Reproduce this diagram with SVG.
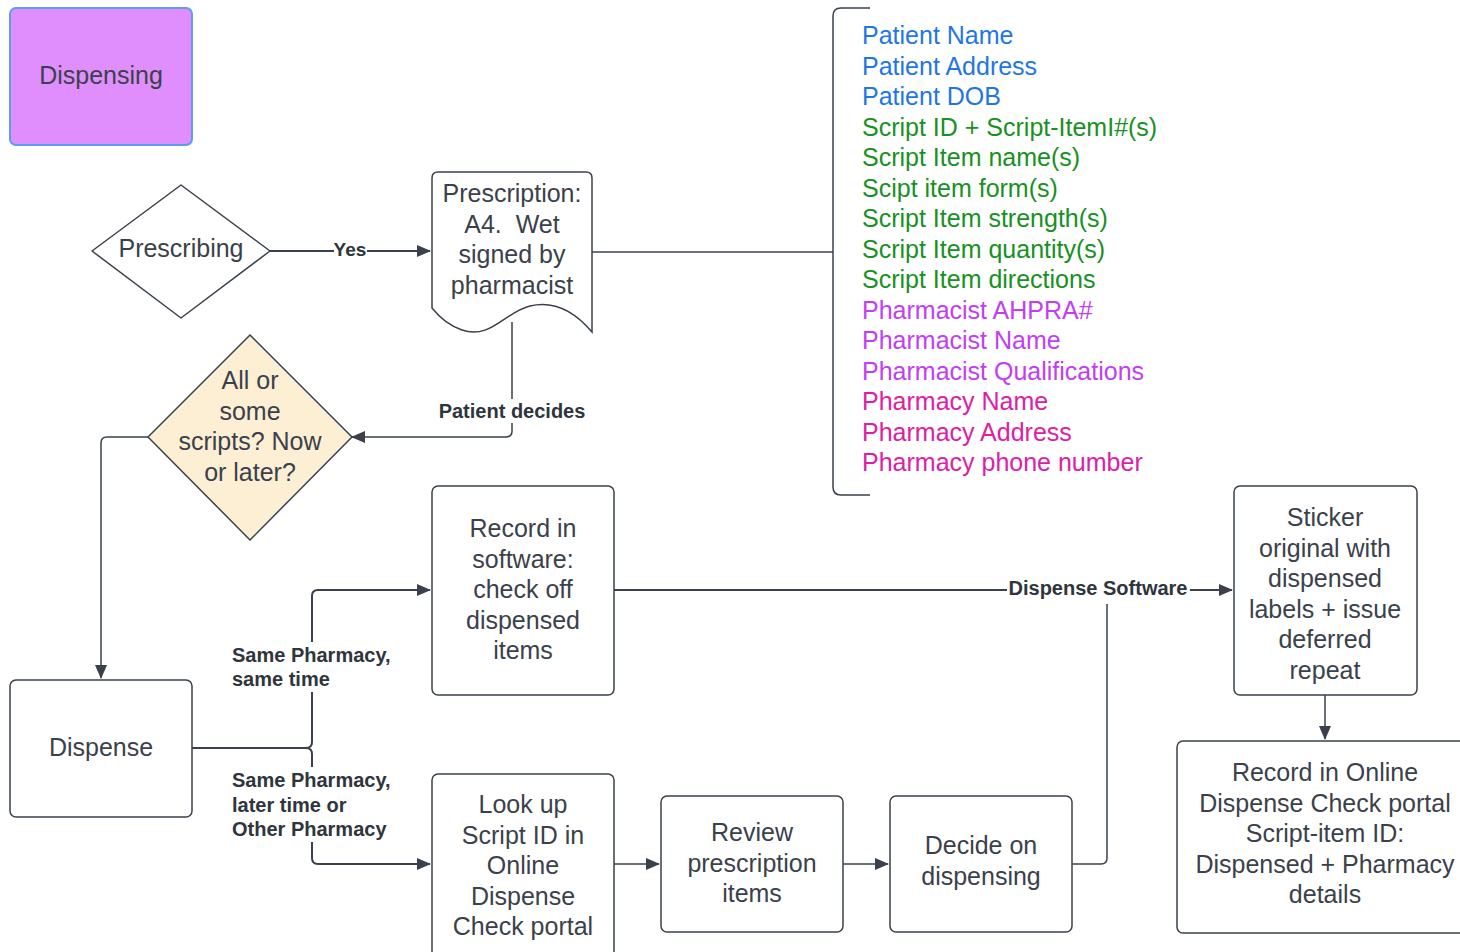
<svg xmlns="http://www.w3.org/2000/svg" width="1460" height="952" viewBox="0 0 1460 952">
<defs>
<marker id="ah" markerWidth="14" markerHeight="12" refX="13" refY="6" orient="auto" markerUnits="userSpaceOnUse"><path d="M0,0 L14,6 L0,12 z" fill="#3a414c"/></marker>
<style>
.n{fill:#fff;stroke:#3a414c;stroke-width:1.5}
.t{font-family:"Liberation Sans",Arial,sans-serif;font-size:25px;fill:#3a414a;text-anchor:middle;white-space:pre}
.l{font-family:"Liberation Sans",Arial,sans-serif;font-size:20px;font-weight:bold;fill:#2f353d}
.bg{fill:#fff}
.c{fill:none;stroke:#3a414c;stroke-width:2}
.li{font-family:"Liberation Sans",Arial,sans-serif;font-size:25px}
.b{fill:#1f76e6}.g{fill:#17911f}.p{fill:#c23df5}.k{fill:#dc20a6}
</style>
</defs>
<rect width="1460" height="952" fill="#fff"/>

<g id="connectors">
<path class="c" d="M270,251 H430" marker-end="url(#ah)"/>
<path class="c" d="M592,252 H833" style="stroke-width:1.5"/>
<path class="c" d="M870,8 H841 Q833,8 833,16 V487 Q833,495 841,495 H870" style="stroke-width:1.5"/>
<path class="c" d="M512,322 V431 Q512,437 506,437 H352" marker-end="url(#ah)" style="stroke-width:1.5"/>
<path class="c" d="M148,437 H107 Q101,437 101,443 V678" marker-end="url(#ah)" style="stroke-width:1.5"/>
<path class="c" d="M192,748 H306 Q312,748 312,742 V596 Q312,590 318,590 H430" marker-end="url(#ah)"/>
<path class="c" d="M192,748 H306 Q312,748 312,754 V858 Q312,864 318,864 H430" marker-end="url(#ah)"/>
<path class="c" d="M614,590 H1232" marker-end="url(#ah)"/>
<path class="c" d="M614,864 H659" marker-end="url(#ah)" style="stroke-width:1.5"/>
<path class="c" d="M843,864 H888" marker-end="url(#ah)" style="stroke-width:1.5"/>
<path class="c" d="M1072,864 H1101 Q1107,864 1107,858 V590" style="stroke-width:1.5"/>
<path class="c" d="M1325,695 V739" marker-end="url(#ah)" style="stroke-width:1.5"/>
<rect class="bg" x="334" y="241" width="33" height="18"/>
<text class="l" x="350" y="256" text-anchor="middle" style="font-size:19px">Yes</text>
<rect class="bg" x="436" y="399" width="152" height="24"/>
<text class="l" x="512" y="418" text-anchor="middle">Patient decides</text>
<rect class="bg" x="229" y="642" width="166" height="50"/>
<text class="l" x="232" y="662"><tspan x="232">Same Pharmacy,</tspan><tspan x="232" dy="24">same time</tspan></text>
<rect class="bg" x="229" y="767" width="166" height="75"/>
<text class="l" x="232" y="787"><tspan x="232">Same Pharmacy,</tspan><tspan x="232" dy="24.5">later time or</tspan><tspan x="232" dy="24.5">Other Pharmacy</tspan></text>
<rect class="bg" x="1007" y="578" width="183" height="26"/>
<text class="l" x="1098" y="595" text-anchor="middle">Dispense Software</text>
</g>

<g id="dispensing">
<rect x="10" y="8" width="182" height="137" rx="6" fill="#e08efd" stroke="#5e9cf0" stroke-width="2"/>
<text class="t" x="101" y="84">Dispensing</text>
</g>

<g id="prescribing">
<path class="n" d="M92,251 L181,185 L270,251 L181,318 Z" stroke-linejoin="round"/>
<text class="t" x="181" y="257">Prescribing</text>
</g>

<g id="prescription">
<path class="n" d="M438,172 H586 Q592,172 592,178 V332 C575,312 555,300 530,306 C505,312 490,340 462,330 C450,326 440,318 432,308 V178 Q432,172 438,172 Z"/>
<text class="t" x="512" y="202"><tspan x="512">Prescription:</tspan><tspan x="512" dy="30.5">A4.  Wet</tspan><tspan x="512" dy="30.5">signed by</tspan><tspan x="512" dy="30.5">pharmacist</tspan></text>
</g>

<g id="fields">
<text class="li" x="862" y="44"><tspan class="b" x="862">Patient Name</tspan><tspan class="b" x="862" dy="30.5">Patient Address</tspan><tspan class="b" x="862" dy="30.5">Patient DOB</tspan><tspan class="g" x="862" dy="30.5">Script ID + Script-ItemI#(s)</tspan><tspan class="g" x="862" dy="30.5">Script Item name(s)</tspan><tspan class="g" x="862" dy="30.5">Scipt item form(s)</tspan><tspan class="g" x="862" dy="30.5">Script Item strength(s)</tspan><tspan class="g" x="862" dy="30.5">Script Item quantity(s)</tspan><tspan class="g" x="862" dy="30.5">Script Item directions</tspan><tspan class="p" x="862" dy="30.5">Pharmacist AHPRA#</tspan><tspan class="p" x="862" dy="30.5">Pharmacist Name</tspan><tspan class="p" x="862" dy="30.5">Pharmacist Qualifications</tspan><tspan class="k" x="862" dy="30.5">Pharmacy Name</tspan><tspan class="k" x="862" dy="30.5">Pharmacy Address</tspan><tspan class="k" x="862" dy="30.5">Pharmacy phone number</tspan></text>
</g>

<g id="decision">
<path d="M250,335 L352,437 L250,540 L148,437 Z" fill="#fdefd4" stroke="#3a414c" stroke-width="1.5" stroke-linejoin="round"/>
<text class="t" x="250" y="389"><tspan x="250">All or</tspan><tspan x="250" dy="30.5">some</tspan><tspan x="250" dy="30.5">scripts? Now</tspan><tspan x="250" dy="30.5">or later?</tspan></text>
</g>

<g id="dispense">
<rect class="n" x="10" y="680" width="182" height="137" rx="6"/>
<text class="t" x="101" y="756">Dispense</text>
</g>

<g id="record-software">
<rect class="n" x="432" y="486" width="182" height="209" rx="6"/>
<text class="t" x="523" y="537"><tspan x="523">Record in</tspan><tspan x="523" dy="30.5">software:</tspan><tspan x="523" dy="30.5">check off</tspan><tspan x="523" dy="30.5">dispensed</tspan><tspan x="523" dy="30.5">items</tspan></text>
</g>

<g id="lookup">
<rect class="n" x="432" y="774" width="182" height="190" rx="6"/>
<text class="t" x="523" y="813"><tspan x="523">Look up</tspan><tspan x="523" dy="30.5">Script ID in</tspan><tspan x="523" dy="30.5">Online</tspan><tspan x="523" dy="30.5">Dispense</tspan><tspan x="523" dy="30.5">Check portal</tspan></text>
</g>

<g id="review">
<rect class="n" x="661" y="796" width="182" height="136" rx="6"/>
<text class="t" x="752" y="841"><tspan x="752">Review</tspan><tspan x="752" dy="30.5">prescription</tspan><tspan x="752" dy="30.5">items</tspan></text>
</g>

<g id="decide">
<rect class="n" x="890" y="796" width="182" height="136" rx="6"/>
<text class="t" x="981" y="854"><tspan x="981">Decide on</tspan><tspan x="981" dy="30.5">dispensing</tspan></text>
</g>

<g id="sticker">
<rect class="n" x="1234" y="486" width="183" height="209" rx="6"/>
<text class="t" x="1325" y="526"><tspan x="1325">Sticker</tspan><tspan x="1325" dy="30.5">original with</tspan><tspan x="1325" dy="30.5">dispensed</tspan><tspan x="1325" dy="30.5">labels + issue</tspan><tspan x="1325" dy="30.5">deferred</tspan><tspan x="1325" dy="30.5">repeat</tspan></text>
</g>

<g id="record-online">
<rect class="n" x="1177" y="741" width="300" height="192" rx="6"/>
<text class="t" x="1325" y="781"><tspan x="1325">Record in Online</tspan><tspan x="1325" dy="30.5">Dispense Check portal</tspan><tspan x="1325" dy="30.5">Script-item ID:</tspan><tspan x="1325" dy="30.5">Dispensed + Pharmacy</tspan><tspan x="1325" dy="30.5">details</tspan></text>
</g>
</svg>
